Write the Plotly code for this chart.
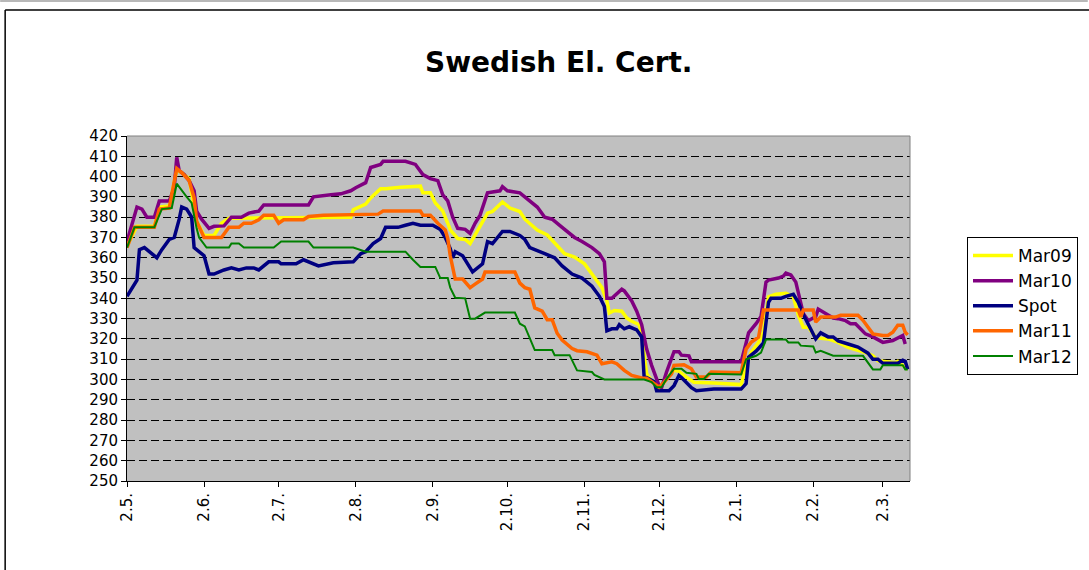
import plotly.graph_objects as go

# ---------------- data ----------------
spot_dates = ["2006-05-02","2006-05-06","2006-05-07","2006-05-09","2006-05-14","2006-05-16","2006-05-19","2006-05-21",
    "2006-05-23","2006-05-24","2006-05-26","2006-05-28","2006-05-29","2006-05-31","2006-06-02","2006-06-04","2006-06-06",
    "2006-06-10","2006-06-13","2006-06-16","2006-06-19","2006-06-22","2006-06-24","2006-06-28","2006-07-02","2006-07-03",
    "2006-07-09","2006-07-12","2006-07-14","2006-07-18","2006-07-24","2006-08-01","2006-08-04","2006-08-06","2006-08-09",
    "2006-08-12","2006-08-14","2006-08-19","2006-08-22","2006-08-25","2006-08-28","2006-09-02","2006-09-05","2006-09-07",
    "2006-09-09","2006-09-10","2006-09-11","2006-09-14","2006-09-16","2006-09-18","2006-09-22","2006-09-24","2006-09-26",
    "2006-09-30","2006-10-03","2006-10-07","2006-10-09","2006-10-11","2006-10-17","2006-10-21","2006-10-24","2006-10-28",
    "2006-11-01","2006-11-05","2006-11-08","2006-11-10","2006-11-11","2006-11-13","2006-11-15","2006-11-16","2006-11-18",
    "2006-11-20","2006-11-23","2006-11-25","2006-11-26","2006-11-27","2006-11-30","2006-12-01","2006-12-06","2006-12-08",
    "2006-12-10","2006-12-11","2006-12-15","2006-12-17","2006-12-24","2007-01-04","2007-01-06","2007-01-07","2007-01-10",
    "2007-01-13","2007-01-15","2007-01-16","2007-01-20","2007-01-22","2007-01-25","2007-01-27","2007-01-29","2007-01-31",
    "2007-02-03","2007-02-05","2007-02-08","2007-02-10","2007-02-12","2007-02-16","2007-02-20","2007-02-24","2007-02-26",
    "2007-02-28","2007-03-02","2007-03-08","2007-03-10","2007-03-11","2007-03-12"]
spot_vals = [341,349,364,365,360,364,369,370,379,385,384,380,365,363,361,352,352,354,355,354,355,355,354,358,358,357,
    357,359,358,356,357.5,358,362,363,367,369.5,375,375,376,377,376,376,374,370,364.5,360,363,361,357,353,357,368,367,
    373,373,371,369,365,362,360,356,352,350,346,341,336,324,325,325,327,325,326,324.5,321,301,301,299,294.5,294.5,297,
    302,301,296,294.5,295.3,295.3,298,311,314,318,338,340,340,341,342,338,332,327,320,323,321,321,319,317.5,316,313,
    310,310,308,308,309.5,309,305]

mar10_dates = ["2006-05-02","2006-05-06","2006-05-08","2006-05-10","2006-05-13","2006-05-15","2006-05-19","2006-05-21",
    "2006-05-22","2006-05-23","2006-05-25","2006-05-27","2006-05-29","2006-05-30","2006-06-01","2006-06-04","2006-06-06",
    "2006-06-10","2006-06-13","2006-06-17","2006-06-20","2006-06-24","2006-06-26","2006-07-14","2006-07-16","2006-07-21",
    "2006-07-23","2006-07-27","2006-07-31","2006-08-02","2006-08-06","2006-08-08","2006-08-12","2006-08-13","2006-08-22",
    "2006-08-26","2006-08-29","2006-09-01","2006-09-04","2006-09-06","2006-09-08","2006-09-10","2006-09-12","2006-09-15",
    "2006-09-17","2006-09-19","2006-09-21","2006-09-24","2006-09-29","2006-09-30","2006-10-02","2006-10-07","2006-10-11",
    "2006-10-14","2006-10-17","2006-10-20","2006-10-24","2006-10-29","2006-11-01","2006-11-05","2006-11-08","2006-11-10",
    "2006-11-11","2006-11-13","2006-11-17","2006-11-18","2006-11-21","2006-11-23","2006-11-25","2006-11-27","2006-11-29",
    "2006-12-02","2006-12-03","2006-12-05","2006-12-08","2006-12-10","2006-12-11","2006-12-14","2006-12-15","2006-12-24",
    "2007-01-04","2007-01-06","2007-01-07","2007-01-10","2007-01-12","2007-01-14","2007-01-15","2007-01-19","2007-01-21",
    "2007-01-22","2007-01-24","2007-01-26","2007-01-28","2007-01-29","2007-01-31","2007-02-03","2007-02-04","2007-02-06",
    "2007-02-10","2007-02-12","2007-02-15","2007-02-17","2007-02-19","2007-02-23","2007-02-26","2007-03-02","2007-03-06",
    "2007-03-10","2007-03-11"]
mar10_vals = [368,385,384,380,380,388,388,394.5,409.5,403,401,398,393,383,379,374.5,375.5,375.7,380,380,382,383,386,386,
    390,391,391,391.5,393,394.5,397,404.5,406,407.5,407.5,406,401,399,398,391,388,380,374.5,374,372,377,381,392,393,395,
    393,392,388,385,380,379,375,370,368,365,362,358,340,340,344.5,343.7,338.7,333.7,327,315,307,297,296,303.7,313.7,
    313.7,312,311.7,308.7,308.7,308.7,318,323,327.5,331,348,349,350,351,352.5,351.5,348,337.5,332.5,329,331,334.7,333.3,
    330.3,330,329,327.5,327.5,322.5,321,318.3,319.2,321.7,317.5]

mar09_dates = ["2006-05-02","2006-05-06","2006-05-13","2006-05-15","2006-05-19","2006-05-22","2006-05-24","2006-05-27",
    "2006-05-28","2006-05-30","2006-06-02","2006-06-06","2006-06-09","2006-06-12","2006-07-31","2006-08-01","2006-08-06",
    "2006-08-08","2006-08-12","2006-08-14","2006-08-20","2006-08-28","2006-08-29","2006-09-01","2006-09-03","2006-09-06",
    "2006-09-08","2006-09-09","2006-09-12","2006-09-15","2006-09-17","2006-09-20","2006-09-24","2006-09-26","2006-09-30",
    "2006-10-03","2006-10-07","2006-10-09","2006-10-14","2006-10-18","2006-10-22","2006-10-25","2006-10-29","2006-11-02",
    "2006-11-05","2006-11-09","2006-11-11","2006-11-12","2006-11-14","2006-11-17","2006-11-19","2006-11-21","2006-11-24",
    "2006-11-25","2006-11-26","2006-11-27","2006-11-29","2006-12-01","2006-12-03","2006-12-05","2006-12-08","2006-12-10",
    "2006-12-13","2006-12-16","2006-12-24","2007-01-04","2007-01-06","2007-01-08","2007-01-11","2007-01-13","2007-01-15",
    "2007-01-18","2007-01-22","2007-01-25","2007-01-27","2007-01-29","2007-01-31","2007-02-03","2007-02-05","2007-02-08",
    "2007-02-12","2007-02-16","2007-02-23","2007-02-26","2007-02-28","2007-03-07","2007-03-08","2007-03-11","2007-03-12"]
mar09_vals = [366,375.5,375.5,385,385.5,403,402,399,392,378,371,371,377,379.5,380,383.7,386.5,389.5,394,394,394.8,395.3,
    392,392,387,383,377,373.7,369.5,369,367,373.7,382,382.8,387.5,384.5,382.8,379,373.7,371.2,366.2,362,360.3,357,352,
    345.3,338.7,332.8,334,333.7,330.3,328.7,327,322,312,302.8,299.5,297,297,300.3,304.5,304,301.2,298.7,298.3,297.5,
    306.7,313.3,318.3,323.3,340.8,342,342.5,340.8,331.7,325.8,325.8,320.8,320.3,320,318.3,315.8,313.3,311.7,309.2,308.3,
    309,305.8,305]

mar11_dates = ["2006-05-02","2006-05-05","2006-05-13","2006-05-15","2006-05-19","2006-05-22","2006-05-24","2006-05-27",
    "2006-05-29","2006-05-30","2006-06-02","2006-06-09","2006-06-12","2006-06-16","2006-06-18","2006-06-21","2006-06-24",
    "2006-06-26","2006-06-30","2006-07-02","2006-07-04","2006-07-12","2006-07-14","2006-07-20","2006-08-11","2006-08-13",
    "2006-08-28","2006-08-29","2006-09-01","2006-09-04","2006-09-07","2006-09-08","2006-09-09","2006-09-11","2006-09-14",
    "2006-09-17","2006-09-19","2006-09-22","2006-09-23","2006-10-05","2006-10-07","2006-10-09","2006-10-11","2006-10-13",
    "2006-10-16","2006-10-18","2006-10-20","2006-10-22","2006-10-24","2006-10-28","2006-10-30","2006-11-03","2006-11-07",
    "2006-11-09","2006-11-13","2006-11-15","2006-11-18","2006-11-21","2006-11-25","2006-11-27","2006-11-29","2006-12-02",
    "2006-12-04","2006-12-07","2006-12-08","2006-12-12","2006-12-15","2006-12-17","2006-12-21","2006-12-23","2007-01-04",
    "2007-01-06","2007-01-08","2007-01-11","2007-01-13","2007-01-27","2007-01-28","2007-01-29","2007-02-02","2007-02-03",
    "2007-02-05","2007-02-11","2007-02-13","2007-02-20","2007-02-22","2007-02-24","2007-02-26","2007-03-02","2007-03-04",
    "2007-03-06","2007-03-08","2007-03-10","2007-03-11","2007-03-12"]
mar11_vals = [365,375,375,384,384.5,404,402,398,389.5,378,370,370,375,375,377,377,378.7,381,381,377,378.7,378.7,380.3,
    381,381.5,383,383,381,381,377,373.7,369.5,361,349.5,349.5,345.3,347,349.5,353,353,347.5,345.3,344.5,335.3,333.7,
    329.5,329.5,322.8,319.5,315.3,314.2,313.7,312,307.8,308.7,307.8,304.5,302,300.8,300.7,299,296.2,298.7,302.8,307,
    307.3,305.3,301.2,301.2,303.7,303.3,315,318.3,320.8,334.2,334.2,330.8,334.2,334.2,328.3,330.8,330.8,331.7,331.7,
    329.2,325.8,322.5,321.7,321.7,323.3,326.7,326.7,323.3,322]

mar12_dates = ["2006-05-02","2006-05-05","2006-05-13","2006-05-16","2006-05-20","2006-05-22","2006-05-26","2006-05-28",
    "2006-05-30","2006-05-31","2006-06-03","2006-06-12","2006-06-13","2006-06-16","2006-06-18","2006-06-30","2006-07-03",
    "2006-07-14","2006-07-16","2006-08-01","2006-08-06","2006-08-22","2006-08-25","2006-08-28","2006-09-03","2006-09-05",
    "2006-09-08","2006-09-09","2006-09-11","2006-09-15","2006-09-17","2006-09-19","2006-09-23","2006-10-05","2006-10-07",
    "2006-10-09","2006-10-13","2006-10-20","2006-10-21","2006-10-27","2006-10-30","2006-11-05","2006-11-06","2006-11-10",
    "2006-11-26","2006-11-29","2006-12-01","2006-12-03","2006-12-05","2006-12-08","2006-12-11","2006-12-13","2006-12-17",
    "2006-12-18","2006-12-20","2006-12-22","2007-01-04","2007-01-06","2007-01-10","2007-01-12","2007-01-14","2007-01-22",
    "2007-01-23","2007-01-27","2007-01-28","2007-02-02","2007-02-03","2007-02-05","2007-02-10","2007-02-22","2007-02-26",
    "2007-03-01","2007-03-02","2007-03-10","2007-03-11","2007-03-12"]
mar12_vals = [365,375,375,384,384.5,396.5,390,387,374.5,370,365,365,367,367,365,365,368,368,365,365,363,363,359,355.5,
    355.5,350,350,345.3,340.3,340,330,330,333,333,327.5,326.2,314.5,314.5,312,312,304.5,303.7,302.3,300,300,298.7,
    296.2,296.2,300.3,305.3,305.3,303.3,302.8,300.3,300.3,302.8,302.5,310,311.7,313.3,319.7,319.7,318.3,318.3,316.7,
    316.3,313.3,314.2,311.7,311.7,305,305,307,307,305,305]

series_names = ["Mar09", "Mar10", "Spot", "Mar11", "Mar12"]

tick_dates = ["2006-05-02","2006-06-02","2006-07-02","2006-08-02","2006-09-02","2006-10-02","2006-11-02",
              "2006-12-02","2007-01-02","2007-02-02","2007-03-02"]
tick_labels = ["2.5.","2.6.","2.7.","2.8.","2.9.","2.10.","2.11.","2.12.","2.1.","2.2.","2.3."]

y_min, y_max, y_step = 250, 420, 10

# ---------------- styles ----------------
colors = {"Mar09": "#FFFF00", "Mar10": "#800080", "Spot": "#000080", "Mar11": "#FF6600", "Mar12": "#008000"}
widths = {"Mar09": 3.5, "Mar10": 3.5, "Spot": 3.5, "Mar11": 3.5, "Mar12": 2}
data = {"Mar09": (mar09_dates, mar09_vals), "Mar10": (mar10_dates, mar10_vals), "Spot": (spot_dates, spot_vals),
        "Mar11": (mar11_dates, mar11_vals), "Mar12": (mar12_dates, mar12_vals)}

W, H = 1089, 570
L, R, T, B = 127, 911, 136, 481

fig = go.Figure()
for name in series_names:
    xs, ys = data[name]
    fig.add_trace(go.Scatter(x=xs, y=ys, mode="lines", name=name, legendgroup=name,
                             line=dict(color=colors[name], width=widths[name])))

def px_x(p):
    return (p - L) / (R - L)

def px_y(p):
    return (B - p) / (B - T)

fig.update_layout(
    width=W, height=H,
    margin=dict(l=L, r=W - R, t=T, b=H - B, pad=0),
    paper_bgcolor="white", plot_bgcolor="#C0C0C0",
    font=dict(family="DejaVu Sans, Liberation Sans, Arial", size=15, color="black"),
    showlegend=True,
    legend=dict(x=px_x(967), y=px_y(237), xanchor="left", yanchor="top",
                bgcolor="white", bordercolor="black", borderwidth=1,
                font=dict(family="DejaVu Sans, Arial", size=17, color="black"),
                tracegroupgap=0, itemwidth=40),
    annotations=[dict(text="<b>Swedish El. Cert.</b>", x=px_x(560), y=px_y(62), xref="paper", yref="paper",
                      xanchor="center", yanchor="middle", showarrow=False,
                      font=dict(family="DejaVu Sans, Arial", size=28, color="black"))],
    shapes=[
        dict(type="line", xref="paper", yref="paper", x0=px_x(5), x1=px_x(W + 5), y0=px_y(10), y1=px_y(10),
             line=dict(color="black", width=1.5)),
        dict(type="line", xref="paper", yref="paper", x0=px_x(5), x1=px_x(5), y0=px_y(10), y1=px_y(H + 5),
             line=dict(color="black", width=1.5)),
        dict(type="line", xref="paper", yref="paper", x0=px_x(0), x1=px_x(W), y0=px_y(1), y1=px_y(1),
             line=dict(color="#A0A0A0", width=1.5)),
        dict(type="line", xref="paper", yref="paper", x0=0, x1=1, y0=1, y1=1,
             line=dict(color="#808080", width=1)),
        dict(type="line", xref="paper", yref="paper", x0=1, x1=1, y0=0, y1=1,
             line=dict(color="#808080", width=1)),
    ],
)

fig.update_xaxes(type="date", range=["2006-05-02", "2007-03-12 22:00"],
                 tickmode="array", tickvals=tick_dates, ticktext=tick_labels, tickangle=-90,
                 ticks="outside", ticklen=5, tickcolor="black", showgrid=False,
                 showline=True, linecolor="black", linewidth=1, zeroline=False,
                 tickfont=dict(size=15))
fig.update_yaxes(range=[y_min, y_max], dtick=y_step, tick0=y_min, ticks="outside", ticklen=5, tickcolor="black",
                 showgrid=True, gridcolor="black", gridwidth=1, griddash="8px,4px",
                 showline=True, linecolor="black", linewidth=1, zeroline=False,
                 tickfont=dict(size=15))

fig.write_html("out.html", config={"displayModeBar": False},
               post_script="document.body.style.margin='0px';document.body.style.overflow='hidden';")
